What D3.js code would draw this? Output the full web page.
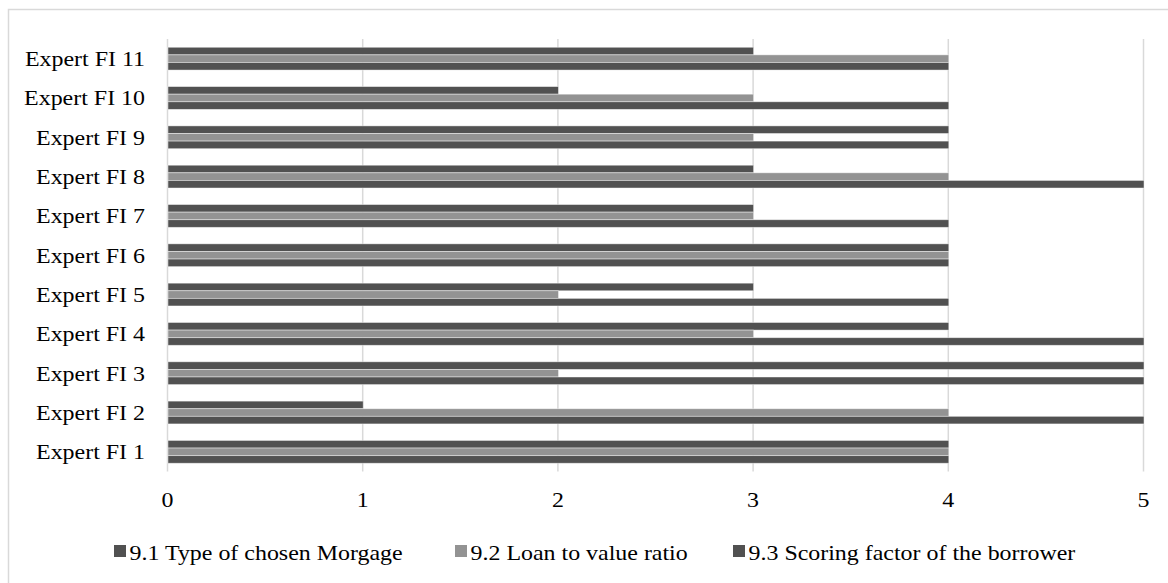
<!DOCTYPE html>
<html><head><meta charset="utf-8">
<script src="https://cdn.jsdelivr.net/npm/d3@7"></script>
<style>html,body{margin:0;padding:0;background:#fff;}svg{display:block;font-family:"Liberation Serif","Times New Roman",serif;}</style>
</head><body><svg id="c" width="1168" height="583"></svg>
<script>
const categories = ["Expert FI 1","Expert FI 2","Expert FI 3","Expert FI 4","Expert FI 5","Expert FI 6","Expert FI 7","Expert FI 8","Expert FI 9","Expert FI 10","Expert FI 11"];
const seriesNames = ["9.1 Type of chosen Morgage","9.2 Loan to value ratio","9.3 Scoring factor of the borrower"];
const s91 = [4,1,5,4,3,4,3,3,4,2,3];
const s92 = [4,4,2,3,2,4,3,4,3,3,4];
const s93 = [4,5,5,5,4,4,4,5,4,4,4];
const xTicks = [0,1,2,3,4,5];
const colors = ["#515151","#939393","#515151"];

const series = [s91,s92,s93];
const sx = 1.14;
const svg = d3.select("#c");
svg.append("rect").attr("x",8.5).attr("y",9.5).attr("width",1200).attr("height",620)
  .attr("fill","#fff").attr("stroke","#d9d9d9").attr("stroke-width",1.5);

const plotTop = 39, plotBottom = 471.5;
const x = d3.scaleLinear().domain([0,5]).range([167.5,1143.5]);
const y = d3.scaleBand().domain(categories.slice().reverse()).range([plotTop,plotBottom]).paddingInner(0.42).paddingOuter(0.21);
const yi = d3.scaleBand().domain([0,1,2]).range([0,y.bandwidth()]);

// gridlines
svg.append("g").selectAll("line").data(xTicks).join("line")
  .attr("x1",d=>x(d)).attr("x2",d=>x(d)).attr("y1",plotTop).attr("y2",plotBottom)
  .attr("stroke","#d9d9d9").attr("stroke-width",1.5);

// bars
const g = svg.append("g");
categories.forEach((c,ci)=>{
  series.forEach((s,si)=>{
    g.append("rect").attr("x",x(0)+0.5).attr("y",y(c)+yi(si))
      .attr("width",x(s[ci])-x(0)).attr("height",yi.bandwidth())
      .attr("fill",colors[si]).attr("stroke","rgba(255,255,255,0.55)").attr("stroke-width",0.8);
  });
});

// y labels
svg.append("g").selectAll("text").data(categories).join("text")
  .attr("transform",d=>`translate(145,${y(d)+y.bandwidth()/2+7.5}) scale(${sx},1)`)
  .attr("text-anchor","end").attr("font-size",21).attr("fill","#000").text(d=>d);

// x tick labels
svg.append("g").selectAll("text").data(xTicks).join("text")
  .attr("transform",d=>`translate(${x(d)},507) scale(${sx},1)`).attr("text-anchor","middle")
  .attr("font-size",21).attr("fill","#000").text(d=>d);

// legend
const legX = [114,455,733];
const lg = svg.append("g");
seriesNames.forEach((n,i)=>{
  lg.append("rect").attr("x",legX[i]).attr("y",545).attr("width",12).attr("height",12).attr("fill",colors[i]);
  lg.append("text").attr("transform",`translate(${legX[i]+15.5},560) scale(${sx},1)`)
    .attr("font-size",21).attr("fill","#000").text(n);
});
</script></body></html>
